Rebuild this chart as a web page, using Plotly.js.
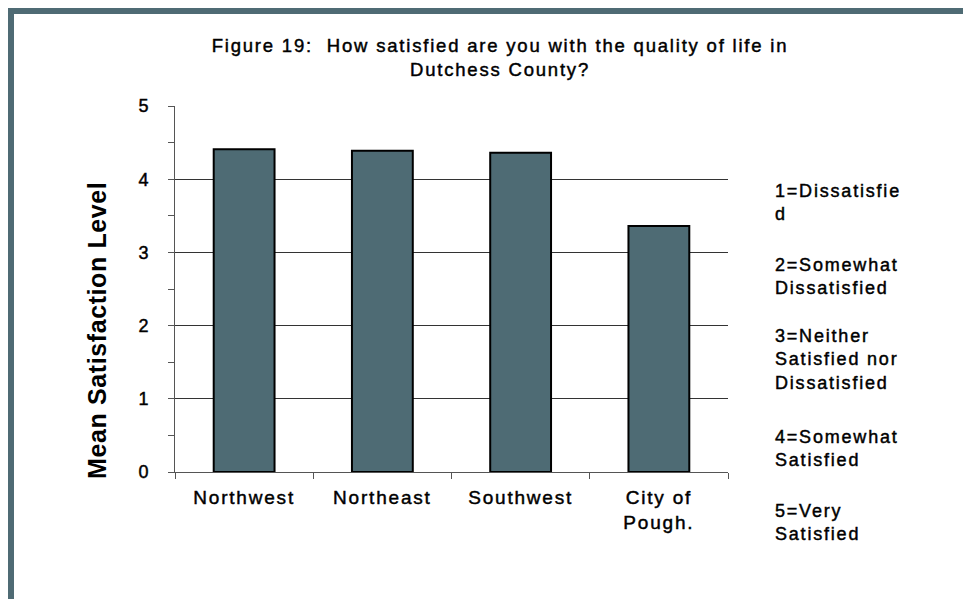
<!DOCTYPE html>
<html>
<head>
<meta charset="utf-8">
<script src="https://cdn.plot.ly/plotly-3.0.1.min.js"></script>
<style>
html,body{margin:0;padding:0;background:#fff;width:963px;height:599px;overflow:hidden;}
#frame{position:absolute;left:8px;top:8px;width:1000px;height:700px;border-top:6px solid #4f6b74;border-left:6px solid #4f6b74;box-sizing:border-box;}
#chart{position:absolute;left:0;top:0;width:963px;height:599px;}
#chart text{letter-spacing:1.8px;stroke:#000;stroke-width:0.45px;}
#chart text.ytitleann{letter-spacing:0.6px;stroke-width:0;}
</style>
</head>
<body>
<div id="frame"></div>
<div id="chart"></div>
<script>
const regions = ["Northwest", "Northeast", "Southwest", "City of<br>Pough."];
const meanSatisfaction = [4.41, 4.39, 4.36, 3.36];
const yTicks = [0, 1, 2, 3, 4, 5];
const gridTicks = [1, 2, 3, 4];
const scaleLabels = ["1=Dissatisfie<br>d", "2=Somewhat<br>Dissatisfied", "3=Neither<br>Satisfied nor<br>Dissatisfied", "4=Somewhat<br>Satisfied", "5=Very<br>Satisfied"];

const FONT = "Liberation Sans, Arial, sans-serif";
const trace = {
  type: "bar",
  x: regions,
  y: meanSatisfaction,
  marker: {color: "#4e6b74", line: {color: "#000", width: 2}},
  hoverinfo: "skip"
};
const gridTrace = {
  type: "scatter", x: [regions[0]], y: [null], yaxis: "y2", showlegend: false, hoverinfo: "skip"
};

const PL = 175, PW = 553, PT = 106, PH = 366;
const annY = [179, 253, 324, 425, 499];
const annotations = scaleLabels.map((t, i) => ({
  text: t,
  xref: "paper", yref: "paper",
  x: (773 - PL) / PW, y: 1 - (annY[i] - PT) / PH,
  xanchor: "left", yanchor: "top", align: "left",
  showarrow: false,
  font: {family: FONT, size: 18, color: "#000"}
}));
annotations.push({
  text: "<b>Mean Satisfaction Level</b>",
  xref: "paper", yref: "paper",
  x: (97 - PL) / PW, y: 1 - (331 - PT) / PH,
  xanchor: "center", yanchor: "middle",
  textangle: -90, showarrow: false,
  font: {family: FONT, size: 25, color: "#000"}
});

const layout = {
  width: 963, height: 599,
  margin: {l: PL, r: 963 - PL - PW, t: PT, b: 599 - PT - PH},
  paper_bgcolor: "rgba(0,0,0,0)",
  plot_bgcolor: "rgba(0,0,0,0)",
  showlegend: false,
  bargap: 0.56,
  title: {
    text: "Figure 19:  How satisfied are you with the quality of life in<br>Dutchess County?",
    x: 500 / 963, xanchor: "center", y: 1 - 52 / 599, yanchor: "middle",
    font: {family: FONT, size: 18.5, color: "#000"}
  },
  xaxis: {
    type: "category",
    showline: true, linecolor: "#555", linewidth: 1,
    ticks: "outside", tickson: "boundaries", ticklen: 6, tickcolor: "#555",
    ticklabelstandoff: 8,
    tickfont: {family: FONT, size: 19, color: "#000"},
    showgrid: false, zeroline: false
  },
  yaxis: {
    range: [0, 5],
    tickvals: yTicks,
    showline: true, linecolor: "#555", linewidth: 1,
    ticks: "outside", ticklen: 6, tickcolor: "#555",
    minor: {dtick: 0.5, ticks: "outside", ticklen: 6, tickcolor: "#555", showgrid: false},
    ticklabelstandoff: 14,
    tickfont: {family: FONT, size: 18, color: "#000"},
    showgrid: false, zeroline: false
  },
  yaxis2: {
    overlaying: "y", range: [0, 5], tickvals: gridTicks,
    showgrid: true, gridcolor: "#333", gridwidth: 1,
    showticklabels: false, ticks: "", showline: false, zeroline: false
  },
  annotations: annotations
};

Plotly.newPlot("chart", [trace, gridTrace], layout, {staticPlot: true, displayModeBar: false}).then(() => {
  document.querySelectorAll("#chart .annotation-text").forEach(el => {
    if (el.textContent.indexOf("Mean Satisfaction") === 0) el.classList.add("ytitleann");
  });
});
</script>
</body>
</html>
